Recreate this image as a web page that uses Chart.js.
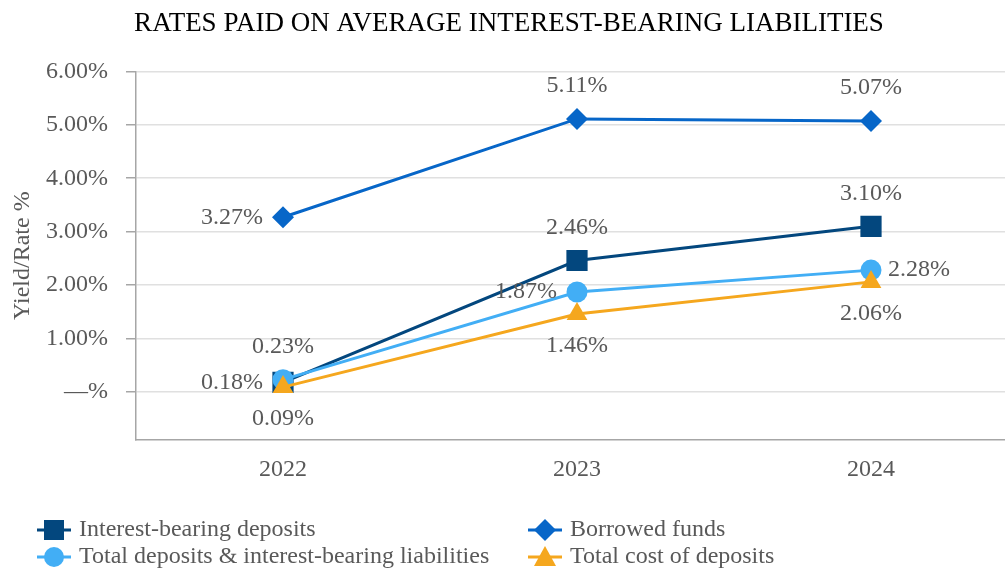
<!DOCTYPE html>
<html>
<head>
<meta charset="utf-8">
<script src="https://cdn.jsdelivr.net/npm/chart.js@4.4.1/dist/chart.umd.min.js"></script>
<style>
  html, body { margin: 0; padding: 0; background: #fff; overflow: hidden; }
  #wrap { width: 1018px; height: 569px; }
</style>
</head>
<body>
<div id="wrap"><canvas id="myChart" width="1018" height="569"></canvas></div>
<script>
let years = ['2022', '2023', '2024'];
let interestBearing = [0.18, 2.46, 3.10];
let borrowedFunds = [3.27, 5.11, 5.07];
let totalDeposits = [0.23, 1.87, 2.28];
let costOfDeposits = [0.09, 1.46, 2.06];
let yTicks = [0, 1, 2, 3, 4, 5, 6];

let serif = "'Liberation Serif', 'Times New Roman', serif";
let textGrey = '#595959';

// where each point label sits, per dataset
let labelPos = [
  ['left', 'top', 'top'],
  ['left', 'top', 'top'],
  ['top', 'left', 'right'],
  ['bottom', 'bottom', 'bottom']
];

let pointLabels = {
  id: 'pointLabels',
  afterDatasetsDraw(chart) {
    let c = chart.ctx;
    c.save();
    c.font = '24px ' + serif;
    c.fillStyle = textGrey;
    chart.data.datasets.forEach((ds, i) => {
      let meta = chart.getDatasetMeta(i);
      meta.data.forEach((pt, j) => {
        let txt = ds.data[j].toFixed(2) + '%';
        let pos = labelPos[i][j];
        let x = pt.x, y = pt.y;
        c.textBaseline = 'middle';
        if (pos === 'top') { c.textAlign = 'center'; y -= 33; }
        else if (pos === 'bottom') { c.textAlign = 'center'; y += 32; }
        else if (pos === 'left') { c.textAlign = 'right'; x -= 20; }
        else { c.textAlign = 'left'; x += 17; }
        c.fillText(txt, x, y);
      });
    });
    c.restore();
  }
};

function marker(c, style, x, y, color) {
  c.fillStyle = color;
  c.beginPath();
  if (style === 'rect') {
    c.rect(x - 10, y - 10, 20, 20);
  } else if (style === 'rectRot') {
    c.moveTo(x, y - 11); c.lineTo(x + 11, y); c.lineTo(x, y + 11); c.lineTo(x - 11, y);
    c.closePath();
  } else if (style === 'circle') {
    c.arc(x, y, 10, 0, Math.PI * 2);
  } else {
    c.moveTo(x, y - 11); c.lineTo(x + 11, y + 9); c.lineTo(x - 11, y + 9);
    c.closePath();
  }
  c.fill();
}

let bottomLegend = {
  id: 'bottomLegend',
  afterDraw(chart) {
    let c = chart.ctx;
    let items = [
      [0, 54, 530], [1, 545, 530], [2, 54, 557], [3, 545, 557]
    ];
    c.save();
    items.forEach(([i, mx, my]) => {
      let ds = chart.data.datasets[i];
      c.strokeStyle = ds.borderColor;
      c.lineWidth = 3;
      c.beginPath();
      c.moveTo(mx - 17, my);
      c.lineTo(mx + 17, my);
      c.stroke();
      marker(c, ds.pointStyle, mx, my, ds.borderColor);
      c.font = '24px ' + serif;
      c.fillStyle = textGrey;
      c.textAlign = 'left';
      c.textBaseline = 'middle';
      c.fillText(ds.label, mx + 25, my);
    });
    c.restore();
  }
};

let ctx = document.getElementById('myChart').getContext('2d');

let myChart = new Chart(ctx, {
  type: 'line',
  data: {
    labels: years,
    datasets: [{
      label: 'Interest-bearing deposits',
      data: interestBearing,
      borderColor: '#03477E',
      backgroundColor: '#03477E',
      pointStyle: 'rect',
      pointRadius: 15,
      order: 3
    }, {
      label: 'Borrowed funds',
      data: borrowedFunds,
      borderColor: '#0766C8',
      backgroundColor: '#0766C8',
      pointStyle: 'rectRot',
      pointRadius: 11,
      order: 2
    }, {
      label: 'Total deposits & interest-bearing liabilities',
      data: totalDeposits,
      borderColor: '#42AEF5',
      backgroundColor: '#42AEF5',
      pointStyle: 'circle',
      pointRadius: 10.5,
      order: 1
    }, {
      label: 'Total cost of deposits',
      data: costOfDeposits,
      borderColor: '#F5A71E',
      backgroundColor: '#F5A71E',
      pointStyle: 'triangle',
      pointRadius: 12,
      order: 0
    }]
  },
  options: {
    responsive: false,
    animation: false,
    elements: {
      line: { borderWidth: 3, tension: 0 },
      point: { borderWidth: 0, hoverRadius: 12 }
    },
    layout: { autoPadding: false, padding: { left: 0, right: 0, top: 0, bottom: 71 } },
    plugins: {
      legend: { display: false },
      tooltip: { enabled: false },
      title: {
        display: true,
        text: 'RATES PAID ON AVERAGE INTEREST-BEARING LIABILITIES',
        color: '#000',
        font: { family: serif, size: 27, weight: 'normal' },
        padding: { top: 8, bottom: 31 }
      }
    },
    scales: {
      x: {
        offset: true,
        grid: { display: false },
        border: { display: true, color: '#a6a6a6', width: 1.5 },
        afterFit: (axis) => { axis.height = 58; },
        ticks: {
          color: textGrey,
          padding: 7,
          font: { family: serif, size: 24 }
        }
      },
      y: {
        min: -0.9,
        max: 6,
        afterBuildTicks: (axis) => {
          axis.ticks = yTicks.map(v => ({ value: v }));
        },
        afterFit: (axis) => { axis.width = 136; },
        grid: {
          color: '#e0e0e0',
          lineWidth: 1.5,
          tickColor: '#a6a6a6',
          tickLength: 10
        },
        border: { display: true, color: '#a6a6a6', width: 1.5 },
        ticks: {
          color: textGrey,
          padding: 18,
          font: { family: serif, size: 24 },
          callback: (value) => value === 0 ? '\u2014%' : value.toFixed(2) + '%'
        },
        title: {
          display: true,
          text: 'Yield/Rate %',
          color: textGrey,
          font: { family: serif, size: 24 },
          padding: { top: 8, bottom: 0 }
        }
      }
    }
  },
  plugins: [pointLabels, bottomLegend]
});
</script>
</body>
</html>
